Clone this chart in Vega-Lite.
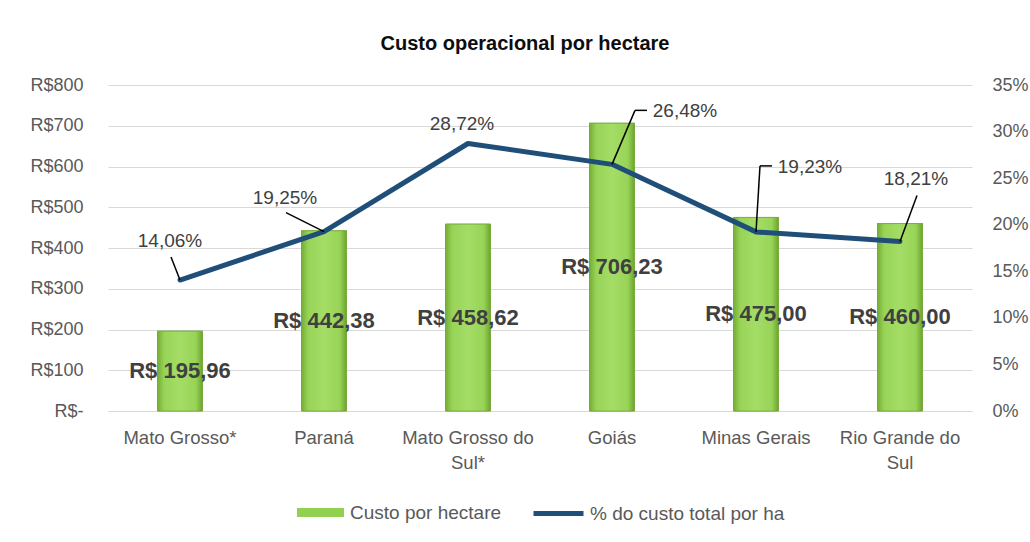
{
  "$schema": "https://vega.github.io/schema/vega-lite/v6.json",
  "width": 864,
  "height": 326,
  "autosize": "none",
  "padding": {"left": 108, "top": 85, "right": 58, "bottom": 131},
  "background": "white",
  "title": {"text": "Custo operacional por hectare", "font": "Liberation Sans", "fontSize": 20, "fontWeight": "bold", "color": "#0D0D0D", "offset": 22, "dx": -15},
  "data": {"values": [
    {"estado": "Mato Grosso*", "custo": 195.96, "pct": 0.1406},
    {"estado": "Paraná", "custo": 442.38, "pct": 0.1925},
    {"estado": "Mato Grosso do Sul*", "custo": 458.62, "pct": 0.2872},
    {"estado": "Goiás", "custo": 706.23, "pct": 0.2648},
    {"estado": "Minas Gerais", "custo": 475.00, "pct": 0.1923},
    {"estado": "Rio Grande do Sul", "custo": 460.00, "pct": 0.1821}
  ]},
  "encoding": {
    "x": {"field": "estado", "type": "nominal", "sort": null,
      "scale": {"paddingInner": 0.6875, "paddingOuter": 0.34375},
      "axis": {"title": null, "labelAngle": 0, "ticks": false, "domainColor": "#D9D9D9", "domainWidth": 1.2,
        "labelPadding": 17, "labelLineHeight": 25, "labelLimit": 300, "labelFontSize": 18.5,
        "labelExpr": "datum.label == 'Mato Grosso do Sul*' ? ['Mato Grosso do', 'Sul*'] : datum.label == 'Rio Grande do Sul' ? ['Rio Grande do', 'Sul'] : datum.label"}}
  },
  "layer": [
    {
      "encoding": {
        "y": {"field": "custo", "type": "quantitative", "scale": {"domain": [0, 800]},
          "axis": {"orient": "left", "title": null, "values": [0, 100, 200, 300, 400, 500, 600, 700, 800], "grid": true, "gridColor": "#D9D9D9", "gridWidth": 1.2, "domain": false, "ticks": false, "labelPadding": 25,
            "labelExpr": "datum.value == 0 ? 'R$-' : 'R$' + datum.value"}}
      },
      "layer": [
        {
          "mark": {"type": "bar", "stroke": "#78A83E", "strokeWidth": 0.8},
          "encoding": {
            "fill": {
              "datum": "Custo por hectare", "type": "nominal", "scale": {"range": ["#92D050"]},
              "legend": {
                "symbolType": "M-0.94,-0.18H0.94V0.18H-0.94Z", "symbolSize": 2500, "symbolStrokeColor": "#78A83E", "symbolStrokeWidth": 1,
                "encode": {"symbols": {"update": {"fill": {"value": {"gradient": "linear", "x1": 0, "y1": 0, "x2": 0, "y2": 1, "stops": [{"offset": 0, "color": "#C6EE9A"}, {"offset": 0.3, "color": "#A4DD66"}, {"offset": 1, "color": "#7DB83A"}]}}}}}
              }
            }
          }
        },
        {
          "mark": {"type": "bar", "stroke": "#78A83E", "strokeWidth": 0.8,
            "fill": {"gradient": "linear", "x1": 0, "y1": 0, "x2": 1, "y2": 0, "stops": [
              {"offset": 0, "color": "#74AD33"}, {"offset": 0.15, "color": "#98D458"}, {"offset": 0.5, "color": "#A4DD66"}, {"offset": 0.85, "color": "#98D458"}, {"offset": 1, "color": "#6CA42C"}]}}
        }
      ]
    },
    {
      "mark": {"type": "text", "font": "Liberation Sans", "fontSize": 22, "fontWeight": "bold", "color": "#404040", "baseline": "middle", "align": "center"},
      "encoding": {
        "y": {"field": "custo", "type": "quantitative", "scale": {"domain": [0, 1600]}, "axis": null},
        "text": {"field": "custo", "type": "quantitative", "format": "$,.2f"}
      }
    },
    {
      "encoding": {
        "y": {"field": "pct", "type": "quantitative", "scale": {"domain": [0, 0.35]},
          "axis": {"orient": "right", "title": null, "values": [0, 0.05, 0.1, 0.15, 0.2, 0.25, 0.3, 0.35], "format": ".0%", "grid": false, "domain": false, "ticks": false, "labelPadding": 20}}
      },
      "layer": [
        {
          "mark": {"type": "line", "strokeWidth": 5, "strokeCap": "round", "strokeJoin": "round"},
          "encoding": {
            "stroke": {"datum": "% do custo total por ha", "type": "nominal", "scale": {"range": ["#1F4E79"]},
              "legend": {"symbolType": "M-1,0H1", "symbolSize": 2500, "symbolStrokeWidth": 5}}
          }
        },
        {"transform": [{"filter": "datum.estado == 'Mato Grosso*'"}], "mark": {"type": "rule", "color": "#000000", "strokeWidth": 1.5, "x2Offset": -9, "y2Offset": -23}, "encoding": {"x2": {"field": "estado"}, "y2": {"field": "pct"}}},
        {"transform": [{"filter": "datum.estado == 'Paraná'"}], "mark": {"type": "rule", "color": "#000000", "strokeWidth": 1.5, "x2Offset": -38, "y2Offset": -19}, "encoding": {"x2": {"field": "estado"}, "y2": {"field": "pct"}}},
        {"transform": [{"filter": "datum.estado == 'Goiás'"}], "mark": {"type": "rule", "color": "#000000", "strokeWidth": 1.5, "x2Offset": 23, "y2Offset": -54}, "encoding": {"x2": {"field": "estado"}, "y2": {"field": "pct"}}},
        {"transform": [{"filter": "datum.estado == 'Goiás'"}], "mark": {"type": "rule", "color": "#000000", "strokeWidth": 1.5, "xOffset": 23, "yOffset": -54, "x2Offset": 35, "y2Offset": -54}, "encoding": {"x2": {"field": "estado"}, "y2": {"field": "pct"}}},
        {"transform": [{"filter": "datum.estado == 'Minas Gerais'"}], "mark": {"type": "rule", "color": "#000000", "strokeWidth": 1.5, "x2Offset": 4, "y2Offset": -66}, "encoding": {"x2": {"field": "estado"}, "y2": {"field": "pct"}}},
        {"transform": [{"filter": "datum.estado == 'Minas Gerais'"}], "mark": {"type": "rule", "color": "#000000", "strokeWidth": 1.5, "xOffset": 4, "yOffset": -66, "x2Offset": 16, "y2Offset": -66}, "encoding": {"x2": {"field": "estado"}, "y2": {"field": "pct"}}},
        {"transform": [{"filter": "datum.estado == 'Rio Grande do Sul'"}], "mark": {"type": "rule", "color": "#000000", "strokeWidth": 1.5, "x2Offset": 17, "y2Offset": -46}, "encoding": {"x2": {"field": "estado"}, "y2": {"field": "pct"}}},
        {"transform": [{"filter": "datum.estado == 'Mato Grosso*'"}], "mark": {"type": "text", "font": "Liberation Sans", "fontSize": 19, "color": "#404040", "baseline": "middle", "align": "center", "dx": -10, "dy": -39}, "encoding": {"text": {"field": "pct", "type": "quantitative", "format": ".2%"}}},
        {"transform": [{"filter": "datum.estado == 'Paraná'"}], "mark": {"type": "text", "font": "Liberation Sans", "fontSize": 19, "color": "#404040", "baseline": "middle", "align": "center", "dx": -39, "dy": -34}, "encoding": {"text": {"field": "pct", "type": "quantitative", "format": ".2%"}}},
        {"transform": [{"filter": "datum.estado == 'Mato Grosso do Sul*'"}], "mark": {"type": "text", "font": "Liberation Sans", "fontSize": 19, "color": "#404040", "baseline": "middle", "align": "center", "dx": -6, "dy": -19}, "encoding": {"text": {"field": "pct", "type": "quantitative", "format": ".2%"}}},
        {"transform": [{"filter": "datum.estado == 'Goiás'"}], "mark": {"type": "text", "font": "Liberation Sans", "fontSize": 19, "color": "#404040", "baseline": "middle", "align": "center", "dx": 73, "dy": -53}, "encoding": {"text": {"field": "pct", "type": "quantitative", "format": ".2%"}}},
        {"transform": [{"filter": "datum.estado == 'Minas Gerais'"}], "mark": {"type": "text", "font": "Liberation Sans", "fontSize": 19, "color": "#404040", "baseline": "middle", "align": "center", "dx": 54, "dy": -65}, "encoding": {"text": {"field": "pct", "type": "quantitative", "format": ".2%"}}},
        {"transform": [{"filter": "datum.estado == 'Rio Grande do Sul'"}], "mark": {"type": "text", "font": "Liberation Sans", "fontSize": 19, "color": "#404040", "baseline": "middle", "align": "center", "dx": 16, "dy": -62}, "encoding": {"text": {"field": "pct", "type": "quantitative", "format": ".2%"}}}
      ]
    }
  ],
  "resolve": {"scale": {"y": "independent"}},
  "config": {
    "locale": {"number": {"decimal": ",", "thousands": ".", "grouping": [3], "currency": ["R$ ", ""]}},
    "view": {"stroke": null},
    "axis": {"labelFont": "Liberation Sans", "labelFontSize": 18, "labelColor": "#595959"},
    "legend": {"orient": "bottom", "direction": "horizontal", "title": null, "labelFont": "Liberation Sans", "labelFontSize": 19, "labelColor": "#595959", "labelLimit": 400, "offset": 14, "labelOffset": 4, "layout": {"bottom": {"anchor": "middle", "direction": "horizontal", "margin": 29, "center": true}}}
  }
}
